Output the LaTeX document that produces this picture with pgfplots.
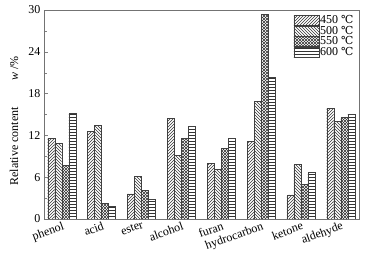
\documentclass[border=0pt]{standalone}
\usepackage{pgfplots}
\pgfplotsset{compat=1.18}
\usetikzlibrary{patterns}
\usepackage{fontspec}
\setmainfont{Liberation Serif}
\newfontfamily\degfont{DejaVu Serif}
\newcommand{\dC}{{\degfont\fontsize{11}{12}\selectfont ℃}}
\begin{document}
\begin{tikzpicture}
\useasboundingbox (-44pt,-37pt) rectangle (334pt,219pt);
\begin{axis}[
 at={(0,0)}, anchor=south west,
 scale only axis, width=315.5pt, height=209pt,
 ybar=0pt, bar width=0.176,
 xmin=-0.445, xmax=7.47, ymin=0, ymax=30,
 xtick={0,...,7},
 xticklabels={phenol,acid,ester,alcohol,furan,hydrocarbon,ketone,aldehyde},
 xticklabel style={rotate=20, anchor=north east, inner sep=0.5pt, yshift=-1.5pt},
 major x tick style={draw=none},
 ytick={0,6,...,30}, minor y tick num=1,
 ytick pos=left, tick align=inside,
 /pgf/number format/assume math mode=true,
 ylabel={Relative content\hspace{2.2em}\textit{w} /\%},
 ylabel style={at={(axis description cs:-0.095,0.469)}, anchor=center},
 axis line style={black!55},
 font=\fontsize{12}{14}\selectfont,
 legend style={draw=none, fill=none, at={(0.995,0.99)}, anchor=north east,
   row sep=-1.5pt, nodes={inner sep=1.2pt}},
 legend image code/.code={\draw[#1] (0pt,-5pt) rectangle (25pt,5pt);},
 legend cell align=left,
 every axis plot/.append style={draw=black!75, pattern color=black!80},
]
\addplot[pattern=north east lines] coordinates {(0,11.6) (1,12.6) (2,3.6) (3,14.45) (4,8.0) (5,11.15) (6,3.45) (7,15.9)};
\addplot[pattern=north west lines] coordinates {(0,10.9) (1,13.4) (2,6.1) (3,9.1) (4,7.1) (5,16.9) (6,7.8) (7,14.0)};
\addplot[pattern=north east lines, postaction={pattern=north west lines}] coordinates {(0,7.7) (1,2.25) (2,4.1) (3,11.6) (4,10.15) (5,29.4) (6,5.0) (7,14.6)};
\addplot[pattern=horizontal lines] coordinates {(0,15.2) (1,1.8) (2,2.8) (3,13.3) (4,11.6) (5,20.3) (6,6.7) (7,15.1)};
\legend{450 \dC, 500 \dC, 550 \dC, 600 \dC}
\end{axis}
\end{tikzpicture}
\end{document}
